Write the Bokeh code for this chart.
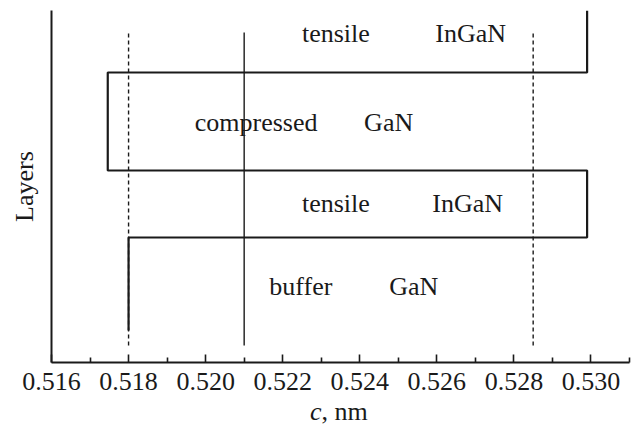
from bokeh.plotting import figure
from bokeh.models import Range1d, FixedTicker, ColumnDataSource, CustomJSTickFormatter
from bokeh.layouts import column
from bokeh.core.properties import value
from bokeh.embed import file_html
from bokeh.resources import INLINE

# ---- data ----
# layer stack from bottom to top: lattice parameter c (nm) of each layer
layer_names = ["buffer GaN", "InGaN", "GaN", "InGaN"]
layer_c = [0.5180, 0.5299, 0.51746, 0.5299]
layer_bounds = [3.2, 12.5, 19.2, 29.0, 35.2]  # layer boundaries (arbitrary depth units)

# reference lattice parameters
c_gan = 0.5180      # dashed
c_mid = 0.5210      # solid
c_ingan = 0.5285    # dashed
ref_span = [1.7, 33.0]

# annotations
label_words = ["tensile", "InGaN", "compressed", "GaN", "tensile", "InGaN", "buffer", "GaN"]
label_x = [0.52338, 0.52688, 0.52131, 0.52475, 0.52338, 0.52680, 0.52247, 0.52540]
label_y = [32.9, 32.9, 24.0, 24.0, 15.9, 15.9, 7.6, 7.6]

x_ticks_major = [0.516, 0.518, 0.520, 0.522, 0.524, 0.526, 0.528, 0.530]
x_ticks_minor = [0.517, 0.519, 0.521, 0.523, 0.525, 0.527, 0.529, 0.531]

x_title_italic = "c"
x_title_rest = ", nm"

FONT = "Liberation Serif"
INK = "#1a1a1a"
W = 632
LEFT, RIGHT = 51, 3

p = figure(width=W, height=396, output_backend="svg", toolbar_location=None,
           x_range=Range1d(0.516, 0.531), y_range=Range1d(0, 35.2),
           min_border_left=LEFT, min_border_right=RIGHT, min_border_top=10, min_border_bottom=34)
p.outline_line_color = None
p.xgrid.visible = False
p.ygrid.visible = False
p.background_fill_color = "white"
p.border_fill_color = "white"

# step profile through the layers
xs, ys = [], []
for i, c in enumerate(layer_c):
    xs += [c, c]
    ys += [layer_bounds[i], layer_bounds[i + 1]]
p.line(xs, ys, line_color=INK, line_width=2.2)

# reference lines
p.line([c_gan, c_gan], ref_span, line_color=INK, line_width=1.4, line_dash="4 3")
p.line([c_ingan, c_ingan], ref_span, line_color=INK, line_width=1.4, line_dash="4 3")
p.line([c_mid, c_mid], ref_span, line_color=INK, line_width=1.4)

src = ColumnDataSource(dict(x=label_x, y=label_y, t=label_words))
p.text(x="x", y="y", text="t", source=src, text_font=value(FONT),
       text_font_size="26px", text_align="center", text_baseline="middle",
       text_color=INK)

# x axis
xa = p.xaxis[0]
xa.ticker = FixedTicker(ticks=x_ticks_major, minor_ticks=x_ticks_minor)
xa.formatter = CustomJSTickFormatter(code="return tick.toFixed(3);")
xa.axis_line_width = 2
xa.axis_line_color = INK
xa.major_tick_in = 8
xa.major_tick_out = 0
xa.minor_tick_in = 5
xa.minor_tick_out = 0
xa.major_tick_line_width = 1.6
xa.minor_tick_line_width = 1.6
xa.major_tick_line_color = INK
xa.minor_tick_line_color = INK
xa.major_label_text_font = FONT
xa.major_label_text_font_size = "26px"
xa.major_label_text_color = INK
xa.major_label_standoff = 10

# y axis
ya = p.yaxis[0]
ya.ticker = FixedTicker(ticks=[])
ya.axis_line_width = 2
ya.axis_line_color = INK
ya.major_tick_line_color = None
ya.minor_tick_line_color = None
ya.axis_label = "Layers"
ya.axis_label_text_font = FONT
ya.axis_label_text_font_style = "normal"
ya.axis_label_text_font_size = "26px"
ya.axis_label_text_color = INK
ya.axis_label_standoff = 13

# x axis title strip: italic "c" followed by ", nm"
p2 = figure(width=W, height=30, output_backend="svg", toolbar_location=None,
            x_range=p.x_range, y_range=Range1d(0, 30),
            x_axis_location=None, y_axis_location=None,
            min_border_left=LEFT, min_border_right=RIGHT, min_border_top=0, min_border_bottom=0)
p2.outline_line_color = None
p2.xgrid.visible = False
p2.ygrid.visible = False
p2.text(x=[0.52301], y=[15], text=[x_title_italic], text_font=value(FONT),
        text_font_style="italic", text_font_size="26px", text_align="right",
        text_baseline="middle", text_color=INK)
p2.text(x=[0.52301], y=[15], text=[x_title_rest], text_font=value(FONT),
        text_font_size="26px", text_align="left", text_baseline="middle", text_color=INK)

layout = column(p, p2, spacing=0)
open("out.html", "w").write(file_html(layout, INLINE))
